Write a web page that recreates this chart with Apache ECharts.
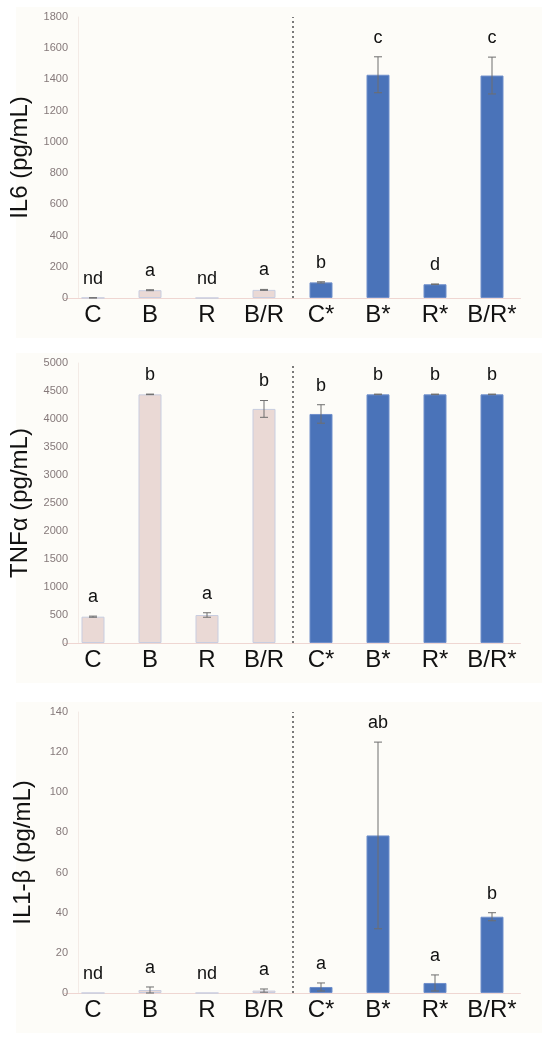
<!DOCTYPE html>
<html>
<head>
<meta charset="utf-8">
<title>Cytokines</title>
<script src="https://cdn.jsdelivr.net/npm/echarts@6/dist/echarts.min.js"></script>
<style>
  html, body { margin: 0; padding: 0; background: #fff; }
  #main { width: 550px; height: 1047px; }
</style>
</head>
<body>
<div id="main"></div>
<script>
// groups; the last four are the starred (treated) ones
var categories = ['C', 'B', 'R', 'B/R', 'C*', 'B*', 'R*', 'B/R*'];
var dividerAt = 4;

var il6Mean = [1, 50, 0, 52, 100, 1430, 88, 1425];
var il6Err = [1, 3, 0, 3, 4, 115, 2, 118];
var il6Letters = ['nd', 'a', 'nd', 'a', 'b', 'c', 'd', 'c'];

var tnfMean = [470, 4440, 500, 4180, 4090, 4440, 4440, 4440];
var tnfErr = [10, 5, 40, 150, 165, 5, 5, 5];
var tnfLetters = ['a', 'b', 'a', 'b', 'b', 'b', 'b', 'b'];

var il1Mean = [0, 1.5, 0, 1.2, 3, 78.5, 5, 38];
var il1Err = [0, 1.5, 0, 0.8, 2, 46.5, 4, 2];
var il1Letters = ['nd', 'a', 'nd', 'a', 'a', 'ab', 'a', 'b'];

var panels = [
    { name: 'IL6 (pg/mL)', max: 1800, interval: 200, mean: il6Mean, err: il6Err, letters: il6Letters, top: 17, height: 281 },
    { name: 'TNF\u03b1 (pg/mL)', max: 5000, interval: 500, mean: tnfMean, err: tnfErr, letters: tnfLetters, top: 363, height: 280 },
    { name: 'IL1-\u03b2 (pg/mL)', max: 140, interval: 20, mean: il1Mean, err: il1Err, letters: il1Letters, top: 712, height: 281 }
];

var pinkBar = { color: '#ead9d5', borderColor: '#c8cde0', borderWidth: 1 };
var blueBar = { color: '#4a73b9', borderColor: '#6f8fcb', borderWidth: 1 };

var font = 'Liberation Sans, Arial, sans-serif';

var grids = [], xAxes = [], yAxes = [], series = [], graphics = [];

panels.forEach(function (p, i) {
    grids.push({ left: 64.5, width: 456, top: p.top, height: p.height, outerBoundsMode: 'none', containLabel: false });

    graphics.push({
        type: 'rect', silent: true, z: -10,
        shape: { x: 16, y: p.top - 10, width: 526, height: p.height + 50 },
        style: { fill: '#fdfcf8' }
    });

    xAxes.push({
        type: 'category', gridIndex: i, data: categories,
        axisTick: { show: false },
        axisLine: { lineStyle: { color: '#efd6d2', width: 1 } },
        axisLabel: { color: '#111', fontSize: 24, fontFamily: font, margin: 5, interval: 0 }
    });
    // hidden value axis, used only to place the dotted divider between the groups
    xAxes.push({
        type: 'value', gridIndex: i, min: 0, max: categories.length, show: false
    });

    yAxes.push({
        type: 'value', gridIndex: i, min: 0, max: p.max, interval: p.interval,
        offset: -13.5,
        name: p.name, nameLocation: 'middle', nameGap: 43,
        nameTextStyle: { color: '#111', fontSize: 24, fontFamily: font },
        axisLine: { show: true, lineStyle: { color: '#f3ebe6' } },
        axisTick: { show: false },
        splitLine: { show: false },
        axisLabel: {
            color: '#85797a', fontSize: 11, fontFamily: font, margin: 10,
            formatter: function (v) { return String(v); }
        }
    });

    series.push({
        type: 'bar', xAxisIndex: i * 2, yAxisIndex: i,
        barWidth: 23,
        data: p.mean.map(function (v, k) {
            return { value: v, itemStyle: k < dividerAt ? pinkBar : blueBar };
        })
    });

    series.push({
        type: 'custom', xAxisIndex: i * 2, yAxisIndex: i, z: 5,
        data: p.mean.map(function (v, k) { return [k, v, p.err[k]]; }),
        renderItem: function (params, api) {
            var k = api.value(0), m = api.value(1), e = api.value(2);
            var top = api.coord([k, m + e]);
            var bot = api.coord([k, m - e]);
            var children = [];
            if (e > 0) {
                var st = { stroke: '#6e6e6e', lineWidth: 1 };
                children.push(
                    { type: 'line', shape: { x1: top[0], y1: top[1], x2: bot[0], y2: bot[1] }, style: st },
                    { type: 'line', shape: { x1: top[0] - 4, y1: top[1], x2: top[0] + 4, y2: top[1] }, style: st },
                    { type: 'line', shape: { x1: bot[0] - 4, y1: bot[1], x2: bot[0] + 4, y2: bot[1] }, style: st }
                );
            }
            children.push({
                type: 'text',
                style: {
                    x: top[0], y: top[1] - 19, text: p.letters[k],
                    fill: '#111', font: '18px ' + font,
                    textAlign: 'center', textVerticalAlign: 'middle'
                }
            });
            return { type: 'group', children: children };
        }
    });

    series.push({
        type: 'line', xAxisIndex: i * 2 + 1, yAxisIndex: i,
        data: [[dividerAt, 0]], symbol: 'none', silent: true,
        lineStyle: { opacity: 0 },
        markLine: {
            silent: true, symbol: 'none', label: { show: false },
            lineStyle: { color: '#7a7a7a', type: [2, 3], width: 2 },
            data: [{ xAxis: dividerAt }]
        }
    });
});

var chart = echarts.init(document.getElementById('main'));
chart.setOption({
    animation: false,
    backgroundColor: '#fff',
    graphic: graphics,
    grid: grids,
    xAxis: xAxes,
    yAxis: yAxes,
    series: series
});
</script>
</body>
</html>
